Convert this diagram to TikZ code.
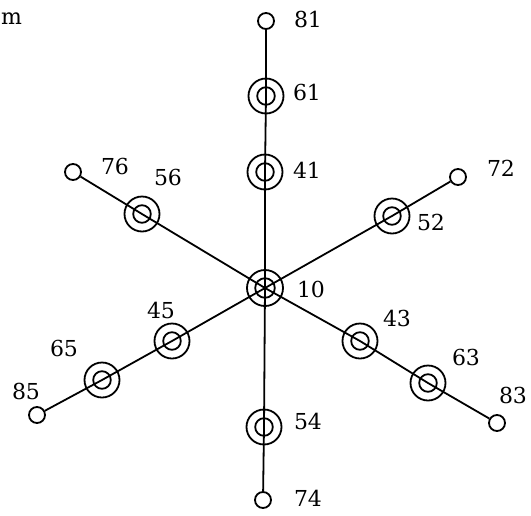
\documentclass[tikz,border=0pt]{standalone}
\usepackage{fontspec}
\setmainfont{DejaVu Serif}
\begin{document}
\begin{tikzpicture}[x=1pt,y=-1pt,
  lw/.style={line width=1.8pt},
  term/.style={circle, draw, lw, minimum size=16pt, inner sep=0pt},
  dbl/.style={circle, draw, lw, minimum size=35pt, inner sep=0pt,
    path picture={\draw[lw] (path picture bounding box.center) circle (8.8pt);}},
  hub/.style={circle, draw, lw, minimum size=36pt, inner sep=0pt,
    path picture={\draw[lw] (path picture bounding box.center) circle (9.8pt);}},
  lab/.style={inner sep=0pt, font=\fontsize{22}{26}\selectfont}
]
\useasboundingbox (0,0) rectangle (531,515);
% nodes
\node[hub]  (n10) at (265,288) {};
\node[term] (n81) at (266,21) {};
\node[dbl]  (n61) at (266,96) {};
\node[dbl]  (n41) at (265,172) {};
\node[dbl]  (n54) at (264,427) {};
\node[term] (n74) at (263,500) {};
\node[term] (n76) at (73,172) {};
\node[dbl]  (n56) at (142,214) {};
\node[dbl]  (n43) at (360,341) {};
\node[dbl]  (n63) at (428,383) {};
\node[term] (n83) at (497,423) {};
\node[term] (n72) at (458,177) {};
\node[dbl]  (n52) at (392,216) {};
\node[dbl]  (n45) at (172,341) {};
\node[dbl]  (n65) at (102,380) {};
\node[term] (n85) at (37,415) {};
% connectors
\draw[lw] (n81) -- (n61.center) -- (n41.center) -- (n10.center) -- (n54.center) -- (n74);
\draw[lw] (n76) -- (n56.center) -- (n10.center) -- (n43.center) -- (n63.center) -- (n83);
\draw[lw] (n72) -- (n52.center) -- (n10.center) -- (n45.center) -- (n65.center) -- (n85);
% labels
\node[lab, anchor=west] (tm) at (1,19) {m};
\node[lab] (l81) at (308,19) {81};
\node[lab] (l61) at (307,92) {61};
\node[lab] (l41) at (307,170) {41};
\node[lab] (l76) at (115,166) {76};
\node[lab] (l56) at (168,177) {56};
\node[lab] (l72) at (501,168) {72};
\node[lab] (l52) at (431,222) {52};
\node[lab] (l10) at (311,289) {10};
\node[lab] (l45) at (161,310) {45};
\node[lab] (l43) at (397,318) {43};
\node[lab] (l65) at (64,348) {65};
\node[lab] (l63) at (466,357) {63};
\node[lab] (l85) at (26,391) {85};
\node[lab] (l83) at (513,395) {83};
\node[lab] (l54) at (308,421) {54};
\node[lab] (l74) at (308,498) {74};
\end{tikzpicture}
\end{document}
